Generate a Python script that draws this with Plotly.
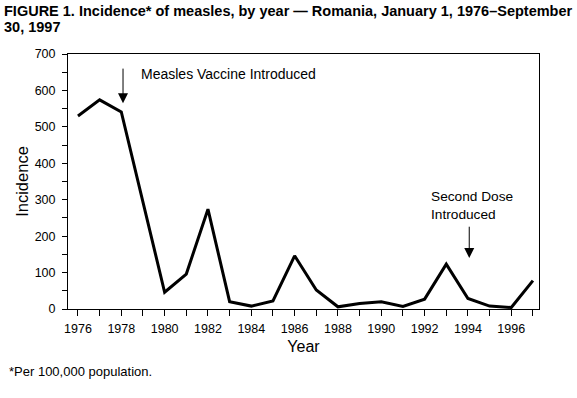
import plotly.graph_objects as go

years = list(range(1976, 1998))
incidence = [530, 574, 541, 295, 46, 96, 274, 20, 8, 22, 146, 52, 6, 15, 20, 7, 27, 123, 29, 8, 4, 78]

x_tick_vals = list(range(1976, 1998))
x_tick_text = [str(y) if (y - 1976) % 2 == 0 and y <= 1996 else "" for y in x_tick_vals]
y_tick_vals = list(range(0, 701, 50))
y_tick_text = [str(v) if v % 100 == 0 else "" for v in y_tick_vals]

FONT = "Liberation Sans, Arial, sans-serif"
L, R, T, B = 68, 539, 54, 309
PW, PH = R - L, B - T

def px(xp):
    return (xp - L) / PW

def py(yp):
    return (B - yp) / PH

fig = go.Figure()
fig.add_trace(go.Scatter(x=years, y=incidence, mode="lines",
                         line=dict(color="black", width=3), showlegend=False))

fig.update_layout(
    width=577, height=398,
    margin=dict(l=L, r=577 - R, t=T, b=398 - B, autoexpand=False),
    paper_bgcolor="white", plot_bgcolor="white",
    font=dict(family=FONT, color="black", size=12),
)
fig.update_xaxes(range=[1975.54, 1997.28], tickvals=x_tick_vals, ticktext=x_tick_text,
                 ticks="outside", ticklen=6, tickcolor="black", showgrid=False, zeroline=False,
                 showline=True, linecolor="black", linewidth=1, mirror=True, automargin=False,
                 ticklabelstandoff=2,
                 title=dict(text="Year", font=dict(size=16), standoff=5),
                 tickfont=dict(size=12.5))
fig.update_yaxes(range=[0, 700], tickvals=y_tick_vals, ticktext=y_tick_text,
                 ticks="outside", ticklen=5, tickcolor="black", showgrid=False, zeroline=False,
                 showline=True, linecolor="black", linewidth=1, mirror=True, automargin=False,
                 ticklabelstandoff=4,
                 title=dict(text="Incidence", font=dict(size=16.5), standoff=1),
                 tickfont=dict(size=12.5))

# title (two lines)
fig.add_annotation(x=px(2), y=py(11), xref="paper", yref="paper",
                   text="<b>FIGURE 1. Incidence* of measles, by year — Romania, January 1, 1976–September</b>",
                   showarrow=False, xanchor="left", yanchor="middle", align="left", font=dict(size=14.5))
fig.add_annotation(x=px(2), y=py(27), xref="paper", yref="paper",
                   text="<b>30, 1997</b>",
                   showarrow=False, xanchor="left", yanchor="middle", align="left", font=dict(size=14.5))
fig.add_annotation(x=1978.82, y=645, xref="x", yref="y", text="Measles Vaccine Introduced",
                   showarrow=False, xanchor="left", yanchor="middle", font=dict(size=14))
fig.add_annotation(x=1978.08, y=565, ax=1978.08, ay=664, xref="x", yref="y", axref="x", ayref="y",
                   text="", showarrow=True, arrowhead=2, arrowsize=2, arrowwidth=1, arrowcolor="black")
fig.add_annotation(x=1992.2, y=283, xref="x", yref="y", text="Second Dose<br>Introduced",
                   showarrow=False, xanchor="left", yanchor="middle", align="left", font=dict(size=13.7))
fig.add_annotation(x=1994.06, y=140, ax=1994.06, ay=230, xref="x", yref="y", axref="x", ayref="y",
                   text="", showarrow=True, arrowhead=2, arrowsize=2, arrowwidth=1, arrowcolor="black")
fig.add_annotation(x=px(7), y=py(371), xref="paper", yref="paper", text="*Per 100,000 population.",
                   showarrow=False, xanchor="left", yanchor="middle", font=dict(size=13))

fig.write_html("out.html", config={"displayModeBar": False},
               post_script="document.body.style.margin='0';")
